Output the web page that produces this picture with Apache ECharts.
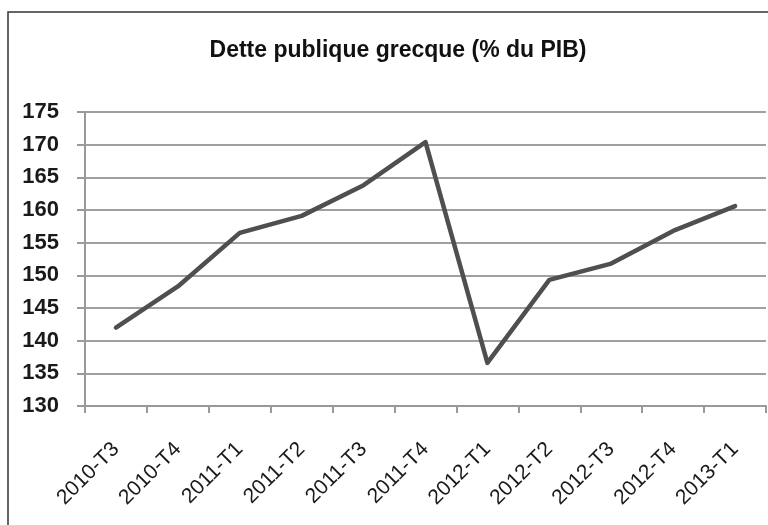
<!DOCTYPE html>
<html>
<head>
<meta charset="utf-8">
<script src="https://cdn.jsdelivr.net/npm/echarts@6/dist/echarts.min.js"></script>
<style>
  html, body { margin: 0; padding: 0; background: #fff; }
  #chart { width: 768px; height: 525px; }
</style>
</head>
<body>
<div id="chart"></div>
<script>
const categories = ['2010-T3', '2010-T4', '2011-T1', '2011-T2', '2011-T3', '2011-T4', '2012-T1', '2012-T2', '2012-T3', '2012-T4', '2013-T1'];
const debtValues = [142, 148.3, 156.5, 159.1, 163.8, 170.4, 136.6, 149.3, 151.8, 156.8, 160.6];
const titleText = 'Dette publique grecque (% du PIB)';

const chart = echarts.init(document.getElementById('chart'), null, { renderer: 'canvas' });
chart.setOption({
  animation: false,
  backgroundColor: '#ffffff',
  title: {
    text: titleText,
    left: 393,
    top: 34,
    textAlign: 'center',
    textStyle: { fontFamily: 'Liberation Sans', fontWeight: 'bold', fontSize: 23, color: '#111' }
  },
  graphic: [{
    type: 'rect',
    shape: { x: 8, y: 12, width: 900, height: 700 },
    style: { fill: 'none', stroke: '#333', lineWidth: 1.5 },
    silent: true
  }],
  grid: { left: 85, right: 2, top: 112, bottom: 119, containLabel: false },
  xAxis: {
    type: 'category',
    data: categories,
    boundaryGap: true,
    axisLine: { lineStyle: { color: '#999', width: 2 } },
    axisTick: { show: true, length: 7, alignWithLabel: false, lineStyle: { color: '#999', width: 2 } },
    axisLabel: {
      rotate: 45, margin: 40, interval: 0,
      fontFamily: 'Liberation Sans', fontSize: 21, color: '#1a1a1a'
    },
    splitLine: { show: false }
  },
  yAxis: {
    type: 'value',
    min: 130, max: 175, interval: 5,
    axisLine: { show: true, lineStyle: { color: '#999', width: 2 } },
    axisTick: { show: true, length: 8, lineStyle: { color: '#999', width: 2 } },
    axisLabel: {
      margin: 26, fontFamily: 'Liberation Sans', fontWeight: 'bold', fontSize: 22, color: '#1a1a1a'
    },
    splitLine: { show: true, lineStyle: { color: '#a0a0a0', width: 2 } }
  },
  series: [{
    type: 'line',
    data: debtValues,
    showSymbol: false,
    symbol: 'none',
    smooth: false,
    lineStyle: { color: '#4f4f4f', width: 4.5, cap: 'round', join: 'round' }
  }]
});
</script>
</body>
</html>
